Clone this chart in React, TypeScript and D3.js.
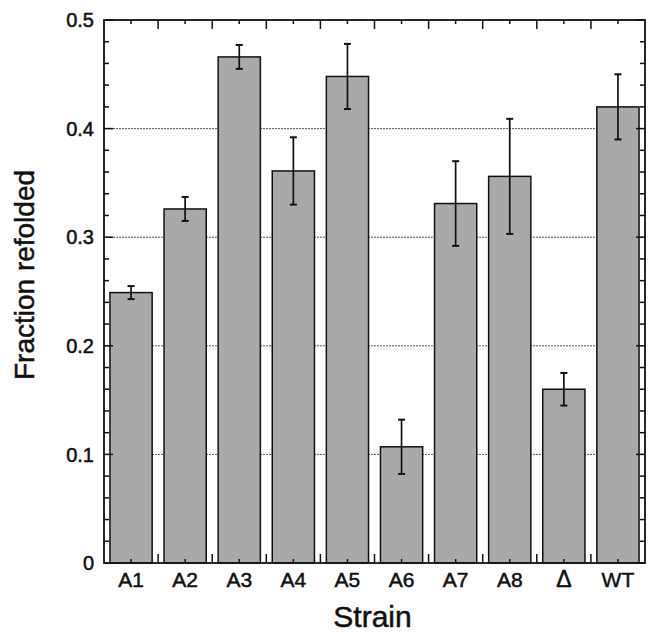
import React from "react";
import * as d3 from "d3";

const categories = ["A1", "A2", "A3", "A4", "A5", "A6", "A7", "A8", "Δ", "WT"];
const values = [0.249, 0.326, 0.466, 0.361, 0.448, 0.107, 0.331, 0.356, 0.160, 0.420];
const errors = [0.006, 0.011, 0.011, 0.031, 0.030, 0.025, 0.039, 0.053, 0.015, 0.030];
const yTicks = [0, 0.1, 0.2, 0.3, 0.4, 0.5];
const gridTicks = [0.1, 0.2, 0.3, 0.4];

export default function App() {
  const W = 653, H = 632;
  const left = 104, right = 645, top = 20, bottom = 563;
  const x = d3.scaleBand<string>().domain(categories).range([left, right]).paddingInner(0.22).paddingOuter(0.11);
  const xb = d3.scaleBand<string>().domain(categories).range([left, right]);
  const y = d3.scaleLinear().domain([0, 0.5]).range([bottom, top]);
  const minor = d3.range(0, 0.5001, 0.02);
  const font = "'Liberation Sans', Arial, Helvetica, sans-serif";
  const bounds = categories.slice(1).map((c) => xb(c) as number);
  const txt = { fontFamily: font, fill: "#111", stroke: "#111", strokeWidth: 0.5 };
  return (
    <svg width={W} height={H} style={{ position: "absolute", left: 0, top: 0 }}>
      <rect x={0} y={0} width={W} height={H} fill="#fff" />
      {gridTicks.map((t) => (
        <line key={t} x1={left} x2={right} y1={y(t)} y2={y(t)} stroke="#555" strokeWidth={1} strokeDasharray="2,1" />
      ))}
      {categories.map((c, i) => {
        const bx = x(c) as number;
        const bw = x.bandwidth();
        const cx = bx + bw / 2;
        return (
          <g key={c}>
            <rect x={bx} y={y(values[i])} width={bw} height={bottom - y(values[i])} fill="#a9a9a9" stroke="#111" strokeWidth={1.5} />
            <line x1={cx} x2={cx} y1={y(values[i] + errors[i])} y2={y(values[i] - errors[i])} stroke="#111" strokeWidth={1.7} />
            <line x1={cx - 3.5} x2={cx + 3.5} y1={y(values[i] + errors[i])} y2={y(values[i] + errors[i])} stroke="#111" strokeWidth={2} />
            <line x1={cx - 3.5} x2={cx + 3.5} y1={y(values[i] - errors[i])} y2={y(values[i] - errors[i])} stroke="#111" strokeWidth={2} />
            <line x1={cx} x2={cx} y1={bottom} y2={bottom - 4} stroke="#111" strokeWidth={1.5} />
            <line x1={cx} x2={cx} y1={top} y2={top + 4} stroke="#111" strokeWidth={1.5} />
            <text x={cx} y={587} textAnchor="middle" fontSize={c === "Δ" ? 23 : 21} {...txt}>{c}</text>
          </g>
        );
      })}
      {bounds.map((b, i) => (
        <g key={i}>
          <line x1={b} x2={b} y1={bottom} y2={bottom - 9} stroke="#111" strokeWidth={1.5} />
          <line x1={b} x2={b} y1={top} y2={top + 9} stroke="#111" strokeWidth={1.5} />
        </g>
      ))}
      {minor.map((t, i) => {
        const major = i % 5 === 0;
        const len = major ? 9 : 5;
        return (
          <g key={i}>
            <line x1={left} x2={left + len} y1={y(t)} y2={y(t)} stroke="#111" strokeWidth={1.5} />
            <line x1={right} x2={right - len} y1={y(t)} y2={y(t)} stroke="#111" strokeWidth={1.5} />
          </g>
        );
      })}
      {yTicks.map((t) => (
        <text key={t} x={94} y={y(t)} dy="0.36em" textAnchor="end" fontSize={20} {...txt}>
          {t === 0 ? "0" : d3.format(".1f")(t)}
        </text>
      ))}
      <rect x={left} y={top} width={right - left} height={bottom - top} fill="none" stroke="#111" strokeWidth={1.8} />
      <text x={(left + right) / 2 - 2} y={627} textAnchor="middle" fontSize={30} {...txt}>Strain</text>
      <text transform={`translate(34,275) rotate(-90)`} textAnchor="middle" fontSize={28} {...txt}>Fraction refolded</text>
    </svg>
  );
}
